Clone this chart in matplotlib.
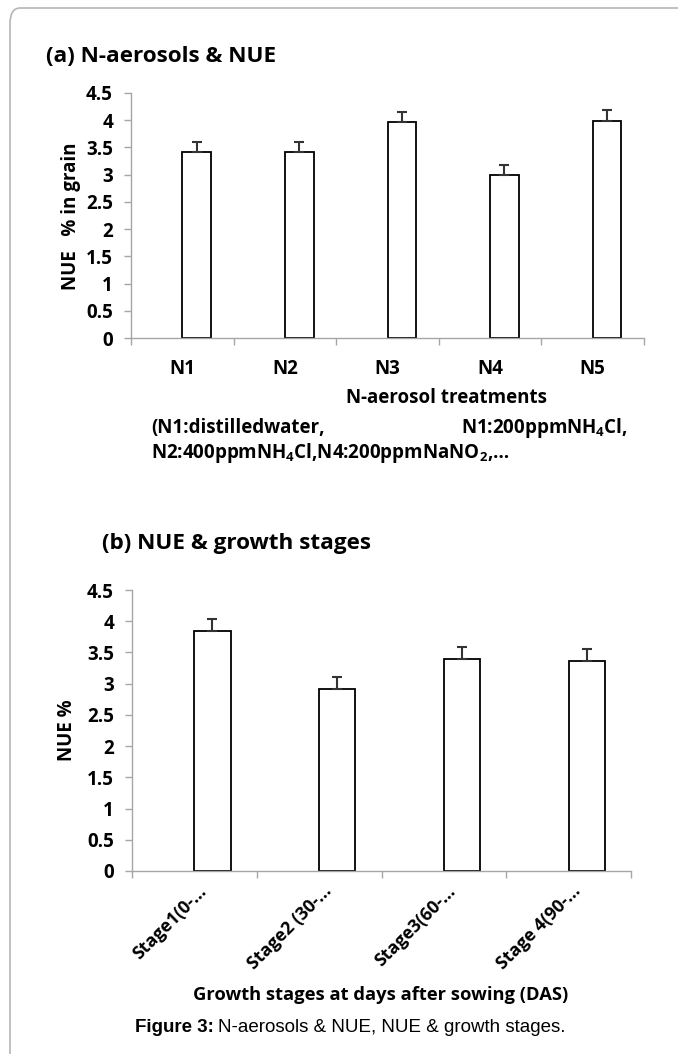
import numpy as np
import matplotlib
matplotlib.use("Agg")
import matplotlib.pyplot as plt
from matplotlib.patches import FancyBboxPatch
from matplotlib.transforms import ScaledTranslation

# data
treatments = ["N1", "N2", "N3", "N4", "N5"]
nue_grain = [3.42, 3.41, 3.97, 2.99, 3.98]
nue_grain_err = [0.18, 0.19, 0.18, 0.18, 0.20]

stages = ["Stage1(0-\u2026", "Stage2 (30-\u2026", "Stage3(60-\u2026", "Stage 4(90-\u2026"]
nue_stage = [3.85, 2.92, 3.40, 3.36]
nue_stage_err = [0.18, 0.19, 0.19, 0.19]

yticks = [0, 0.5, 1, 1.5, 2, 2.5, 3, 3.5, 4, 4.5]
ytick_labels = ["0", "0.5", "1", "1.5", "2", "2.5", "3", "3.5", "4", "4.5"]

plt.rcParams["font.family"] = ["Open Sans", "DejaVu Sans"]
plt.rcParams["font.weight"] = "bold"
plt.rcParams["mathtext.default"] = "regular"

LBL = 13.5
TITLE = 16.2

W, H = 678, 1054
fig = plt.figure(figsize=(W / 100, H / 100), dpi=100)

def fx(px):
    return px / W

def fy(py):
    return 1 - py / H

# light frame (top and left edges only visible)
frame = FancyBboxPatch((fx(10), fy(1200)), fx(800), fy(8) - fy(1200),
                       boxstyle="round,pad=0,rounding_size=0.015",
                       transform=fig.transFigure, fill=False,
                       edgecolor="#b5b5b5", linewidth=1.2, clip_on=False)
fig.patches.append(frame)

AXIS_GREY = "#a6a6a6"


def bar_panel(ax, cats, vals, errs, bar_w):
    n = len(cats)
    x = np.arange(n)
    # bars sit to the right of the category centre (second, empty series in the original)
    ax.bar(x + bar_w / 2, vals, width=bar_w, color="white", edgecolor="black",
           linewidth=1.3, zorder=2)
    ax.errorbar(x + bar_w / 2, vals, yerr=[np.zeros(n), errs], fmt="none",
                ecolor="#333333", elinewidth=1.5, capsize=3.5, capthick=1.5, zorder=3)
    ax.set_xlim(-0.5, n - 0.5)
    ax.set_ylim(0, 4.5)
    ax.set_yticks(yticks)
    ax.set_yticklabels(ytick_labels, fontsize=LBL, fontweight="bold")
    ax.set_xticks(x)
    ax.set_xticks(np.arange(n + 1) - 0.5, minor=True)
    for s in ["top", "right"]:
        ax.spines[s].set_visible(False)
    for s in ["left", "bottom"]:
        ax.spines[s].set_color(AXIS_GREY)
        ax.spines[s].set_linewidth(1.0)
    ax.tick_params(axis="y", length=5, width=1.0, color=AXIS_GREY, pad=8)
    ax.tick_params(axis="x", which="major", length=0)
    ax.tick_params(axis="x", which="minor", length=5, width=1.0, color=AXIS_GREY)
    return x


# (a) N-aerosols & NUE
ax1 = fig.add_axes([fx(131), fy(338), fx(644) - fx(131), fy(93) - fy(338)])
bar_panel(ax1, treatments, nue_grain, nue_grain_err, 0.28)
ax1.set_xticklabels(treatments, fontsize=LBL, fontweight="bold")
ax1.tick_params(axis="x", which="major", pad=15)

fig.text(fx(46), fy(57), "(a) N-aerosols & NUE", fontsize=TITLE, fontweight="bold",
         ha="left", va="center")
fig.text(fx(71), fy(216), "NUE   % in grain", fontsize=LBL, fontweight="bold",
         rotation=90, ha="center", va="center")
fig.text(fx(447), fy(398), "N-aerosol treatments", fontsize=LBL, fontweight="bold",
         ha="center", va="center")
fig.text(fx(151), fy(428), "(N1:distilledwater,", fontsize=LBL, fontweight="bold",
         ha="left", va="center")
fig.text(fx(461), fy(428), "N1:200ppmNH$_4$Cl,", fontsize=LBL, fontweight="bold",
         ha="left", va="center")
fig.text(fx(151), fy(453), "N2:400ppmNH$_4$Cl,N4:200ppmNaNO$_2$,\u2026", fontsize=LBL,
         fontweight="bold", ha="left", va="center")

# (b) NUE & growth stages
ax2 = fig.add_axes([fx(132), fy(871), fx(631) - fx(132), fy(590) - fy(871)])
bar_panel(ax2, stages, nue_stage, nue_stage_err, 0.29)
ax2.set_xticklabels(stages, fontsize=12.8, fontweight="bold", rotation=45,
                    ha="right", rotation_mode="anchor")
ax2.tick_params(axis="x", which="major", pad=8)
shift = ScaledTranslation(3 / 100, 0, fig.dpi_scale_trans)
for lab in ax2.get_xticklabels():
    lab.set_transform(lab.get_transform() + shift)

fig.text(fx(102), fy(543), "(b) NUE & growth stages", fontsize=TITLE, fontweight="bold",
         ha="left", va="center")
fig.text(fx(67), fy(730), "NUE %", fontsize=LBL, fontweight="bold",
         rotation=90, ha="center", va="center")
fig.text(fx(381), fy(995), "Growth stages at days after sowing (DAS)", fontsize=13.2,
         fontweight="bold", ha="center", va="center")

# caption: bold "Figure 3:" followed by regular text
cap1 = fig.text(fx(135), fy(1028), "Figure 3:", fontsize=13.5, fontweight="bold",
                family="Liberation Sans", ha="left", va="center")
fig.canvas.draw()
bb = cap1.get_window_extent(fig.canvas.get_renderer())
fig.text(bb.x1 / W + fx(4), fy(1028), "N-aerosols & NUE, NUE & growth stages.",
         fontsize=13.5, fontweight="normal", family="Liberation Sans",
         ha="left", va="center")

fig.savefig("out.png", dpi=100)
